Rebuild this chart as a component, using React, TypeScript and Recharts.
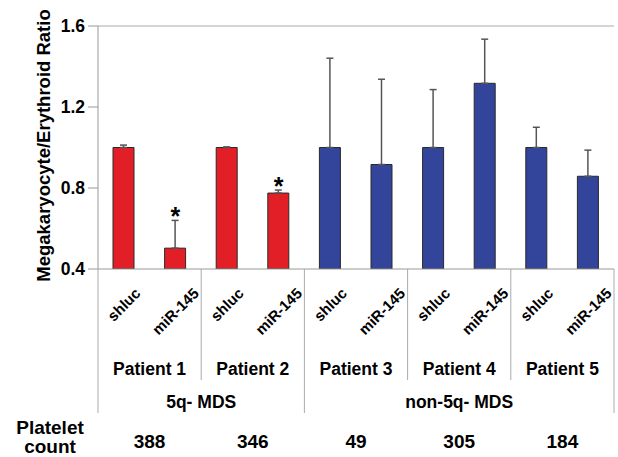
import React from 'react';
import {
  ComposedChart, Bar, Cell, ErrorBar, Scatter, XAxis, YAxis, ReferenceLine,
} from 'recharts';

const conditions = ['shluc', 'miR-145', 'shluc', 'miR-145', 'shluc', 'miR-145', 'shluc', 'miR-145', 'shluc', 'miR-145'];
const patients = ['Patient 1', 'Patient 2', 'Patient 3', 'Patient 4', 'Patient 5'];
const groups = ['5q- MDS', 'non-5q- MDS'];
const groupSizes = [2, 3]; // patients per group
const platelets = [388, 346, 49, 305, 184];
const ratios = [1.0, 0.503, 1.0, 0.775, 1.0, 0.916, 1.0, 1.317, 1.0, 0.858];
const errUp = [0.012, 0.137, 0.003, 0.015, 0.441, 0.421, 0.286, 0.218, 0.1, 0.129];
const significant = [false, true, false, true, false, false, false, false, false, false];
const groupColors = ['#e21f26', '#33449b'];
const yTicks = [0.4, 0.8, 1.2, 1.6];

const W = 618;
const H = 457;
const MARGIN = { top: 26, right: 4, left: 38, bottom: 158 };
const Y_W = 60;
const X_H = 30;
const PLOT_W = W - MARGIN.left - Y_W - MARGIN.right;
const BAND = PLOT_W / conditions.length;
const FONT = 'Liberation Sans, Arial, Helvetica, sans-serif';
const SEP = '#aaaaaa';

const groupOfPatient: number[] = [];
groupSizes.forEach((n, g) => { for (let i = 0; i < n; i++) groupOfPatient.push(g); });
const groupStart: number[] = [];
let acc = 0;
groupSizes.forEach((n) => { groupStart.push(acc * 2); acc += n; });

const data = conditions.map((c, i) => ({
  id: `${patients[Math.floor(i / 2)]}-${c}`,
  cond: c,
  value: ratios[i],
  err: [0, errUp[i]],
  sig: significant[i],
  star: significant[i] ? ratios[i] + errUp[i] : null,
  group: groupOfPatient[Math.floor(i / 2)],
}));

let ctx: CanvasRenderingContext2D | null = null;
function textWidth(t: string, font: string) {
  if (!ctx && typeof document !== 'undefined') ctx = document.createElement('canvas').getContext('2d');
  if (!ctx) return t.length * 8;
  ctx.font = font;
  return ctx.measureText(t).width;
}

const CategoryTick = (props: any) => {
  const { x, y, index } = props;
  const label = conditions[index];
  const fs = 15;
  const w = textWidth(label, `bold ${fs}px ${FONT}`);
  // rotated label hangs from a line ~18px under the axis
  const cy = y + 17 + (w + 13) / (2 * Math.SQRT2);
  const left = x - BAND / 2;
  const els: React.ReactNode[] = [];
  els.push(
    <g key="c" transform={`translate(${x}, ${cy}) rotate(-45)`}>
      <text x={0} y={0} dy="0.36em" textAnchor="middle" fontSize={fs} fontWeight="bold" fontFamily={FONT} fill="#000">
        {label}
      </text>
    </g>
  );
  if (index % 2 === 0) {
    const p = index / 2;
    const isGroupStart = groupStart.includes(index);
    els.push(<line key="s" x1={left} x2={left} y1={y} y2={y + (isGroupStart ? 144 : 111)} stroke={SEP} />);
    els.push(
      <text key="p" x={x + BAND / 2} y={y + 106} textAnchor="middle" fontSize={17.5} fontWeight="bold" fontFamily={FONT} fill="#000">
        {patients[p]}
      </text>
    );
    els.push(
      <text key="n" x={x + BAND / 2} y={y + 179} textAnchor="middle" fontSize={19} fontWeight="bold" fontFamily={FONT} fill="#000">
        {platelets[p]}
      </text>
    );
    if (isGroupStart) {
      const g = groupStart.indexOf(index);
      els.push(
        <text key="g" x={left + groupSizes[g] * BAND} y={y + 139} textAnchor="middle" fontSize={17.5} fontWeight="bold" fontFamily={FONT} fill="#000">
          {groups[g]}
        </text>
      );
    }
    if (index === 0) {
      els.push(
        <text key="pl" x={left - 48} y={y + 165} textAnchor="middle" fontSize={19} fontWeight="bold" fontFamily={FONT} fill="#000">
          <tspan x={left - 48}>Platelet</tspan>
          <tspan x={left - 48} dy={19}>count</tspan>
        </text>
      );
    }
  }
  if (index === conditions.length - 1) {
    els.push(<line key="r" x1={x + BAND / 2} x2={x + BAND / 2} y1={y} y2={y + 144} stroke={SEP} />);
  }
  return <g>{els}</g>;
};

const StarShape = (props: any) => {
  const { cx, cy, payload } = props;
  if (!payload || !payload.sig || !isFinite(cx) || !isFinite(cy)) return <g />;
  return (
    <text x={cx} y={cy + 5} textAnchor="middle" fontSize={25} fontWeight="bold" fontFamily={FONT} fill="#000">*</text>
  );
};

const YLabel = (props: any) => {
  const vb = props.viewBox || { x: MARGIN.left, y: MARGIN.top, width: Y_W, height: 243 };
  const cx = vb.x + 5;
  const cy = vb.y + vb.height / 2 - 2;
  return (
    <text x={cx} y={cy} textAnchor="middle" dominantBaseline="central" transform={`rotate(-90, ${cx}, ${cy})`}
      fontSize={18.5} fontWeight="bold" fontFamily={FONT} fill="#000">
      Megakaryocyte/Erythroid Ratio
    </text>
  );
};

export default function App() {
  return (
    <div style={{ position: 'absolute', left: 0, top: 0, width: W, height: H, background: '#fff' }}>
      <ComposedChart width={W} height={H} data={data} margin={MARGIN}>
        <XAxis dataKey="id" height={X_H} interval={0} tickSize={0} tickMargin={0}
          tickLine={false} axisLine={{ stroke: '#999' }} tick={CategoryTick} />
        <YAxis yAxisId="left" domain={[0.4, 1.6]} ticks={yTicks} allowDataOverflow width={Y_W}
          tickFormatter={(v: number) => v.toFixed(1)} tickSize={10} tickMargin={3}
          axisLine={{ stroke: '#999' }} tickLine={{ stroke: '#999' }}
          tick={{ fill: '#000', fontSize: 17.5, fontWeight: 'bold', fontFamily: FONT }}
          label={YLabel} />
        <YAxis yAxisId="right" orientation="right" domain={[0.4, 1.6]} width={0} tick={false}
          tickLine={false} axisLine={{ stroke: '#bbb' }} />
        <ReferenceLine yAxisId="left" y={1.6} stroke="#aaa" />
        <Bar yAxisId="left" dataKey="value" barSize={21} stroke="#2a2a2a" strokeWidth={1} isAnimationActive={false}>
          {data.map((d, i) => (
            <Cell key={i} fill={groupColors[d.group]} />
          ))}
          <ErrorBar dataKey="err" direction="y" width={3.5} stroke="#555" strokeWidth={1.5} />
        </Bar>
        <Scatter yAxisId="left" dataKey="star" shape={StarShape} isAnimationActive={false} />
      </ComposedChart>
    </div>
  );
}
